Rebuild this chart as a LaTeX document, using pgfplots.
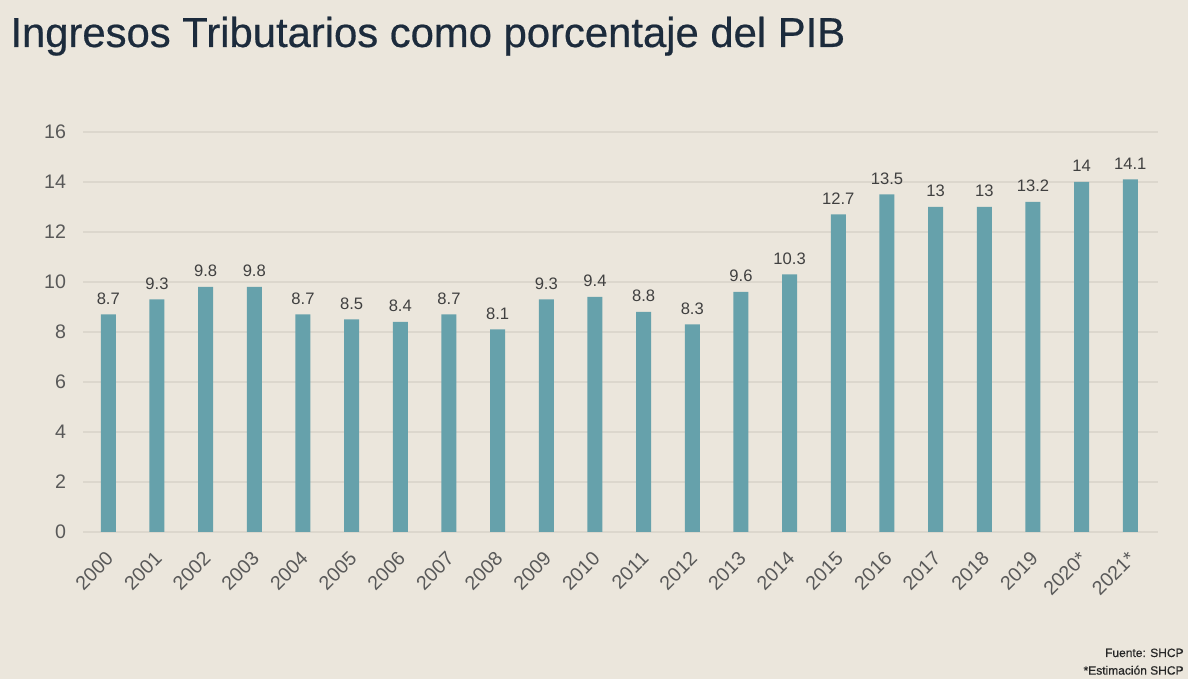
\documentclass[border=0pt]{standalone}
\usepackage{pgfplots}
\pgfplotsset{compat=1.18}
\usepackage{fontspec}
\setmainfont{Liberation Sans}
\newfontfamily\titlefont[FakeBold=0.5]{Liberation Sans}
\definecolor{bg}{HTML}{EBE6DC}
\definecolor{barc}{HTML}{66A1AB}
\definecolor{titlec}{HTML}{1C2B3C}
\definecolor{gridc}{HTML}{DCD7CD}
\definecolor{tickc}{HTML}{595959}
\definecolor{labc}{HTML}{404040}
\begin{document}
\begin{tikzpicture}
\fill[bg] (0,0) rectangle (594pt,339.5pt);
\node[anchor=base west, inner sep=0pt, text=titlec, font=\titlefont\fontsize{20.9}{24}\selectfont] at (5pt,316pt) {Ingresos Tributarios como porcentaje del PIB};
\begin{axis}[
  at={(41.5pt,73.5pt)}, anchor=south west,
  scale only axis, width=537.5pt, height=200pt,
  ybar, bar width=7.5pt,
  xmin=-0.52, xmax=21.57, ymin=0, ymax=16,
  ytick={0,2,...,16},
  xtick=data,
  xticklabels={2000,2001,2002,2003,2004,2005,2006,2007,2008,2009,2010,2011,2012,2013,2014,2015,2016,2017,2018,2019,2020*,2021*},
  ymajorgrids, grid style={color=gridc, line width=0.6pt},
  axis x line*=bottom, axis y line*=left,
  x axis line style={draw=gridc, line width=0.6pt, -},
  y axis line style={draw=none},
  major tick length=0pt,
  /pgf/number format/assume math mode=true,
  tick label style={font=\fontsize{9.8}{11}\selectfont, text=tickc},
  yticklabel style={anchor=east, xshift=-5pt},
  xticklabel style={rotate=45, anchor=north east, inner sep=1pt, xshift=-6.6pt, yshift=-4.1pt},
  nodes near coords,
  nodes near coords style={font=\fontsize{8.3}{10}\selectfont, text=labc, yshift=1.5pt},
]
\addplot[fill=barc, draw=none] coordinates {
(0,8.7) (1,9.3) (2,9.8) (3,9.8) (4,8.7) (5,8.5) (6,8.4) (7,8.7) (8,8.1) (9,9.3) (10,9.4)
(11,8.8) (12,8.3) (13,9.6) (14,10.3) (15,12.7) (16,13.5) (17,13) (18,13) (19,13.2) (20,14) (21,14.1)};
\end{axis}
\node[anchor=base east, inner sep=0pt, text=black!85, font=\titlefont\fontsize{6}{7}\selectfont] at (592pt,11pt) {Fuente: SHCP};
\node[anchor=base east, inner sep=0pt, text=black!85, font=\titlefont\fontsize{6}{7}\selectfont] at (592pt,2.2pt) {*Estimación SHCP};
\pgfresetboundingbox
\useasboundingbox (0,0) rectangle (594pt,339.5pt);
\end{tikzpicture}
\end{document}
